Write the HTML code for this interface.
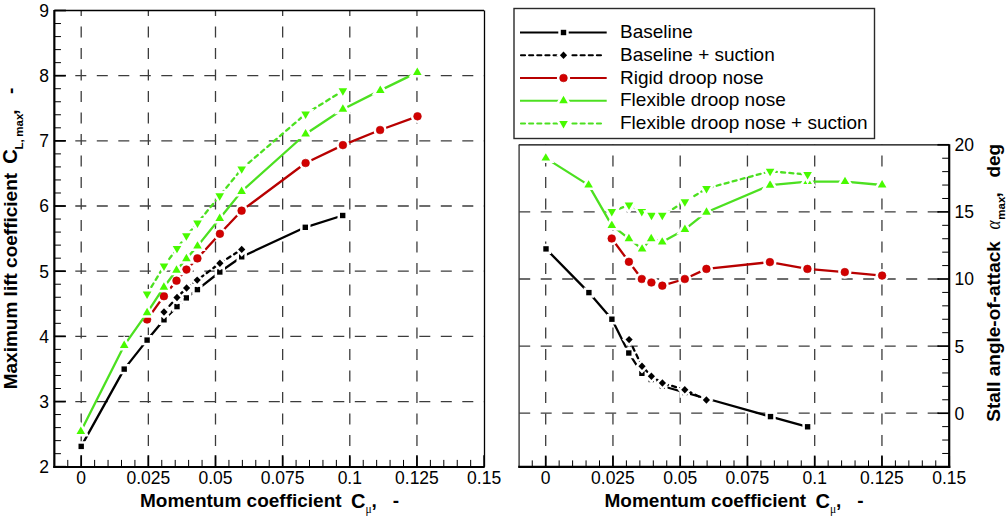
<!DOCTYPE html>
<html><head><meta charset="utf-8"><style>
html,body{margin:0;padding:0;background:#fff;}
svg{display:block;}
svg{font-family:"Liberation Sans",sans-serif;} text{fill:#000;}
</style></head><body>
<svg width="1008" height="516" viewBox="0 0 1008 516">
<rect width="1008" height="516" fill="#fff"/>
<line x1="81.2" y1="467.5" x2="81.2" y2="10.51" stroke="#3c3c3c" stroke-width="1.3" stroke-dasharray="11 10.5" stroke-dashoffset="0"/>
<line x1="148.35" y1="467.5" x2="148.35" y2="10.51" stroke="#3c3c3c" stroke-width="1.3" stroke-dasharray="11 10.5" stroke-dashoffset="0"/>
<line x1="215.5" y1="467.5" x2="215.5" y2="10.51" stroke="#3c3c3c" stroke-width="1.3" stroke-dasharray="11 10.5" stroke-dashoffset="0"/>
<line x1="282.65" y1="467.5" x2="282.65" y2="10.51" stroke="#3c3c3c" stroke-width="1.3" stroke-dasharray="11 10.5" stroke-dashoffset="0"/>
<line x1="349.8" y1="467.5" x2="349.8" y2="10.51" stroke="#3c3c3c" stroke-width="1.3" stroke-dasharray="11 10.5" stroke-dashoffset="0"/>
<line x1="416.95" y1="467.5" x2="416.95" y2="10.51" stroke="#3c3c3c" stroke-width="1.3" stroke-dasharray="11 10.5" stroke-dashoffset="0"/>
<line x1="53.8" y1="401.53" x2="484.1" y2="401.53" stroke="#3c3c3c" stroke-width="1.3" stroke-dasharray="11 10.5" stroke-dashoffset="0"/>
<line x1="53.8" y1="336.36" x2="484.1" y2="336.36" stroke="#3c3c3c" stroke-width="1.3" stroke-dasharray="11 10.5" stroke-dashoffset="0"/>
<line x1="53.8" y1="271.19" x2="484.1" y2="271.19" stroke="#3c3c3c" stroke-width="1.3" stroke-dasharray="11 10.5" stroke-dashoffset="0"/>
<line x1="53.8" y1="206.02" x2="484.1" y2="206.02" stroke="#3c3c3c" stroke-width="1.3" stroke-dasharray="11 10.5" stroke-dashoffset="0"/>
<line x1="53.8" y1="140.85" x2="484.1" y2="140.85" stroke="#3c3c3c" stroke-width="1.3" stroke-dasharray="11 10.5" stroke-dashoffset="0"/>
<line x1="53.8" y1="75.68" x2="484.1" y2="75.68" stroke="#3c3c3c" stroke-width="1.3" stroke-dasharray="11 10.5" stroke-dashoffset="0"/>
<line x1="545.7" y1="467.5" x2="545.7" y2="144.8" stroke="#3c3c3c" stroke-width="1.3" stroke-dasharray="11 10.5" stroke-dashoffset="0"/>
<line x1="612.95" y1="467.5" x2="612.95" y2="144.8" stroke="#3c3c3c" stroke-width="1.3" stroke-dasharray="11 10.5" stroke-dashoffset="0"/>
<line x1="680.2" y1="467.5" x2="680.2" y2="144.8" stroke="#3c3c3c" stroke-width="1.3" stroke-dasharray="11 10.5" stroke-dashoffset="0"/>
<line x1="747.45" y1="467.5" x2="747.45" y2="144.8" stroke="#3c3c3c" stroke-width="1.3" stroke-dasharray="11 10.5" stroke-dashoffset="0"/>
<line x1="814.7" y1="467.5" x2="814.7" y2="144.8" stroke="#3c3c3c" stroke-width="1.3" stroke-dasharray="11 10.5" stroke-dashoffset="0"/>
<line x1="881.95" y1="467.5" x2="881.95" y2="144.8" stroke="#3c3c3c" stroke-width="1.3" stroke-dasharray="11 10.5" stroke-dashoffset="0"/>
<line x1="519.2" y1="413.2" x2="949.2" y2="413.2" stroke="#3c3c3c" stroke-width="1.3" stroke-dasharray="11 10.5" stroke-dashoffset="0"/>
<line x1="519.2" y1="346.1" x2="949.2" y2="346.1" stroke="#3c3c3c" stroke-width="1.3" stroke-dasharray="11 10.5" stroke-dashoffset="0"/>
<line x1="519.2" y1="279" x2="949.2" y2="279" stroke="#3c3c3c" stroke-width="1.3" stroke-dasharray="11 10.5" stroke-dashoffset="0"/>
<line x1="519.2" y1="211.9" x2="949.2" y2="211.9" stroke="#3c3c3c" stroke-width="1.3" stroke-dasharray="11 10.5" stroke-dashoffset="0"/>
<path d="M81.2,446.4 L124.2,369.1 L147.1,340.1 L164,319.8 L177,306.6 L186.3,297.9 L197.4,289.6 L219.8,272 L241.7,256.8 L305.3,227.3 L342.7,215.5" fill="none" stroke="#000" stroke-width="2.3" stroke-linejoin="round"/>
<path d="M78.5,443.7h5.4v5.4h-5.4z" fill="#000" stroke="#fff" stroke-width="5.0" stroke-linejoin="miter" stroke-miterlimit="6" paint-order="stroke"/>
<path d="M121.5,366.4h5.4v5.4h-5.4z" fill="#000" stroke="#fff" stroke-width="5.0" stroke-linejoin="miter" stroke-miterlimit="6" paint-order="stroke"/>
<path d="M144.4,337.4h5.4v5.4h-5.4z" fill="#000" stroke="#fff" stroke-width="5.0" stroke-linejoin="miter" stroke-miterlimit="6" paint-order="stroke"/>
<path d="M161.3,317.1h5.4v5.4h-5.4z" fill="#000" stroke="#fff" stroke-width="5.0" stroke-linejoin="miter" stroke-miterlimit="6" paint-order="stroke"/>
<path d="M174.3,303.9h5.4v5.4h-5.4z" fill="#000" stroke="#fff" stroke-width="5.0" stroke-linejoin="miter" stroke-miterlimit="6" paint-order="stroke"/>
<path d="M183.6,295.2h5.4v5.4h-5.4z" fill="#000" stroke="#fff" stroke-width="5.0" stroke-linejoin="miter" stroke-miterlimit="6" paint-order="stroke"/>
<path d="M194.7,286.9h5.4v5.4h-5.4z" fill="#000" stroke="#fff" stroke-width="5.0" stroke-linejoin="miter" stroke-miterlimit="6" paint-order="stroke"/>
<path d="M217.1,269.3h5.4v5.4h-5.4z" fill="#000" stroke="#fff" stroke-width="5.0" stroke-linejoin="miter" stroke-miterlimit="6" paint-order="stroke"/>
<path d="M239,254.1h5.4v5.4h-5.4z" fill="#000" stroke="#fff" stroke-width="5.0" stroke-linejoin="miter" stroke-miterlimit="6" paint-order="stroke"/>
<path d="M302.6,224.6h5.4v5.4h-5.4z" fill="#000" stroke="#fff" stroke-width="5.0" stroke-linejoin="miter" stroke-miterlimit="6" paint-order="stroke"/>
<path d="M340,212.8h5.4v5.4h-5.4z" fill="#000" stroke="#fff" stroke-width="5.0" stroke-linejoin="miter" stroke-miterlimit="6" paint-order="stroke"/>
<path d="M164,312 L177,297.5 L186.6,288 L197.2,280.1 L219.9,263.2 L241.7,249.4" fill="none" stroke="#000" stroke-width="2.3" stroke-linejoin="round" stroke-dasharray="4 4.3" stroke-linecap="round"/>
<path d="M164,308.3L167.6,312L164,315.7L160.4,312z" fill="#000" stroke="#fff" stroke-width="5.0" stroke-linejoin="miter" stroke-miterlimit="6" paint-order="stroke"/>
<path d="M177,293.8L180.6,297.5L177,301.2L173.4,297.5z" fill="#000" stroke="#fff" stroke-width="5.0" stroke-linejoin="miter" stroke-miterlimit="6" paint-order="stroke"/>
<path d="M186.6,284.3L190.2,288L186.6,291.7L183,288z" fill="#000" stroke="#fff" stroke-width="5.0" stroke-linejoin="miter" stroke-miterlimit="6" paint-order="stroke"/>
<path d="M197.2,276.4L200.8,280.1L197.2,283.8L193.6,280.1z" fill="#000" stroke="#fff" stroke-width="5.0" stroke-linejoin="miter" stroke-miterlimit="6" paint-order="stroke"/>
<path d="M219.9,259.5L223.5,263.2L219.9,266.9L216.3,263.2z" fill="#000" stroke="#fff" stroke-width="5.0" stroke-linejoin="miter" stroke-miterlimit="6" paint-order="stroke"/>
<path d="M241.7,245.7L245.3,249.4L241.7,253.1L238.1,249.4z" fill="#000" stroke="#fff" stroke-width="5.0" stroke-linejoin="miter" stroke-miterlimit="6" paint-order="stroke"/>
<path d="M147.1,319.5 L163.9,296.2 L176.5,280.7 L186.4,269.6 L197.4,258.4 L219.9,233.8 L241.6,210.7 L305.6,163 L342.9,145.1 L380.1,130 L417.5,116.3" fill="none" stroke="#b80000" stroke-width="2.3" stroke-linejoin="round"/>
<circle cx="147.1" cy="319.5" r="4.15" fill="#fff" stroke="#fff" stroke-width="5.0"/>
<circle cx="147.1" cy="319.5" r="3.85" fill="#d20000" stroke="#bb0000" stroke-width="0.6"/>
<circle cx="163.9" cy="296.2" r="4.15" fill="#fff" stroke="#fff" stroke-width="5.0"/>
<circle cx="163.9" cy="296.2" r="3.85" fill="#d20000" stroke="#bb0000" stroke-width="0.6"/>
<circle cx="176.5" cy="280.7" r="4.15" fill="#fff" stroke="#fff" stroke-width="5.0"/>
<circle cx="176.5" cy="280.7" r="3.85" fill="#d20000" stroke="#bb0000" stroke-width="0.6"/>
<circle cx="186.4" cy="269.6" r="4.15" fill="#fff" stroke="#fff" stroke-width="5.0"/>
<circle cx="186.4" cy="269.6" r="3.85" fill="#d20000" stroke="#bb0000" stroke-width="0.6"/>
<circle cx="197.4" cy="258.4" r="4.15" fill="#fff" stroke="#fff" stroke-width="5.0"/>
<circle cx="197.4" cy="258.4" r="3.85" fill="#d20000" stroke="#bb0000" stroke-width="0.6"/>
<circle cx="219.9" cy="233.8" r="4.15" fill="#fff" stroke="#fff" stroke-width="5.0"/>
<circle cx="219.9" cy="233.8" r="3.85" fill="#d20000" stroke="#bb0000" stroke-width="0.6"/>
<circle cx="241.6" cy="210.7" r="4.15" fill="#fff" stroke="#fff" stroke-width="5.0"/>
<circle cx="241.6" cy="210.7" r="3.85" fill="#d20000" stroke="#bb0000" stroke-width="0.6"/>
<circle cx="305.6" cy="163" r="4.15" fill="#fff" stroke="#fff" stroke-width="5.0"/>
<circle cx="305.6" cy="163" r="3.85" fill="#d20000" stroke="#bb0000" stroke-width="0.6"/>
<circle cx="342.9" cy="145.1" r="4.15" fill="#fff" stroke="#fff" stroke-width="5.0"/>
<circle cx="342.9" cy="145.1" r="3.85" fill="#d20000" stroke="#bb0000" stroke-width="0.6"/>
<circle cx="380.1" cy="130" r="4.15" fill="#fff" stroke="#fff" stroke-width="5.0"/>
<circle cx="380.1" cy="130" r="3.85" fill="#d20000" stroke="#bb0000" stroke-width="0.6"/>
<circle cx="417.5" cy="116.3" r="4.15" fill="#fff" stroke="#fff" stroke-width="5.0"/>
<circle cx="417.5" cy="116.3" r="3.85" fill="#d20000" stroke="#bb0000" stroke-width="0.6"/>
<path d="M80.8,431.5 L124.2,345.4 L147.1,312.8 L163.9,287.2 L176.5,270.2 L186.4,258.7 L197.5,246.1 L219.7,218.5 L241.6,191.4 L305.6,134 L342.9,109.3 L380.3,90.4 L417.3,72.4" fill="none" stroke="#4ce020" stroke-width="2.3" stroke-linejoin="round"/>
<path d="M80.8,426.53L85.1,433.98L76.5,433.98z" fill="#48fa00" stroke="#fff" stroke-width="5.0" stroke-linejoin="miter" stroke-miterlimit="6" paint-order="stroke"/>
<path d="M124.2,340.43L128.5,347.88L119.9,347.88z" fill="#48fa00" stroke="#fff" stroke-width="5.0" stroke-linejoin="miter" stroke-miterlimit="6" paint-order="stroke"/>
<path d="M147.1,307.83L151.4,315.28L142.8,315.28z" fill="#48fa00" stroke="#fff" stroke-width="5.0" stroke-linejoin="miter" stroke-miterlimit="6" paint-order="stroke"/>
<path d="M163.9,282.23L168.2,289.68L159.6,289.68z" fill="#48fa00" stroke="#fff" stroke-width="5.0" stroke-linejoin="miter" stroke-miterlimit="6" paint-order="stroke"/>
<path d="M176.5,265.23L180.8,272.68L172.2,272.68z" fill="#48fa00" stroke="#fff" stroke-width="5.0" stroke-linejoin="miter" stroke-miterlimit="6" paint-order="stroke"/>
<path d="M186.4,253.73L190.7,261.18L182.1,261.18z" fill="#48fa00" stroke="#fff" stroke-width="5.0" stroke-linejoin="miter" stroke-miterlimit="6" paint-order="stroke"/>
<path d="M197.5,241.13L201.8,248.58L193.2,248.58z" fill="#48fa00" stroke="#fff" stroke-width="5.0" stroke-linejoin="miter" stroke-miterlimit="6" paint-order="stroke"/>
<path d="M219.7,213.53L224,220.98L215.4,220.98z" fill="#48fa00" stroke="#fff" stroke-width="5.0" stroke-linejoin="miter" stroke-miterlimit="6" paint-order="stroke"/>
<path d="M241.6,186.43L245.9,193.88L237.3,193.88z" fill="#48fa00" stroke="#fff" stroke-width="5.0" stroke-linejoin="miter" stroke-miterlimit="6" paint-order="stroke"/>
<path d="M305.6,129.03L309.9,136.48L301.3,136.48z" fill="#48fa00" stroke="#fff" stroke-width="5.0" stroke-linejoin="miter" stroke-miterlimit="6" paint-order="stroke"/>
<path d="M342.9,104.33L347.2,111.78L338.6,111.78z" fill="#48fa00" stroke="#fff" stroke-width="5.0" stroke-linejoin="miter" stroke-miterlimit="6" paint-order="stroke"/>
<path d="M380.3,85.43L384.6,92.88L376,92.88z" fill="#48fa00" stroke="#fff" stroke-width="5.0" stroke-linejoin="miter" stroke-miterlimit="6" paint-order="stroke"/>
<path d="M417.3,67.43L421.6,74.88L413,74.88z" fill="#48fa00" stroke="#fff" stroke-width="5.0" stroke-linejoin="miter" stroke-miterlimit="6" paint-order="stroke"/>
<path d="M147.1,294 L164,266.1 L177,248.4 L186.4,235.7 L197.5,223 L219.7,195.8 L241.7,168.9 L305.6,114 L342.9,90.8" fill="none" stroke="#4ce020" stroke-width="2.3" stroke-linejoin="round" stroke-dasharray="4 4.3" stroke-linecap="round"/>
<path d="M147.1,298.97L151.4,291.52L142.8,291.52z" fill="#48fa00" stroke="#fff" stroke-width="5.0" stroke-linejoin="miter" stroke-miterlimit="6" paint-order="stroke"/>
<path d="M164,271.07L168.3,263.62L159.7,263.62z" fill="#48fa00" stroke="#fff" stroke-width="5.0" stroke-linejoin="miter" stroke-miterlimit="6" paint-order="stroke"/>
<path d="M177,253.37L181.3,245.92L172.7,245.92z" fill="#48fa00" stroke="#fff" stroke-width="5.0" stroke-linejoin="miter" stroke-miterlimit="6" paint-order="stroke"/>
<path d="M186.4,240.67L190.7,233.22L182.1,233.22z" fill="#48fa00" stroke="#fff" stroke-width="5.0" stroke-linejoin="miter" stroke-miterlimit="6" paint-order="stroke"/>
<path d="M197.5,227.97L201.8,220.52L193.2,220.52z" fill="#48fa00" stroke="#fff" stroke-width="5.0" stroke-linejoin="miter" stroke-miterlimit="6" paint-order="stroke"/>
<path d="M219.7,200.77L224,193.32L215.4,193.32z" fill="#48fa00" stroke="#fff" stroke-width="5.0" stroke-linejoin="miter" stroke-miterlimit="6" paint-order="stroke"/>
<path d="M241.7,173.87L246,166.42L237.4,166.42z" fill="#48fa00" stroke="#fff" stroke-width="5.0" stroke-linejoin="miter" stroke-miterlimit="6" paint-order="stroke"/>
<path d="M305.6,118.97L309.9,111.52L301.3,111.52z" fill="#48fa00" stroke="#fff" stroke-width="5.0" stroke-linejoin="miter" stroke-miterlimit="6" paint-order="stroke"/>
<path d="M342.9,95.77L347.2,88.32L338.6,88.32z" fill="#48fa00" stroke="#fff" stroke-width="5.0" stroke-linejoin="miter" stroke-miterlimit="6" paint-order="stroke"/>
<path d="M546,248.9 L588.9,292.6 L611.9,319.2 L628.8,353 L641.9,373.3 L651.2,379.5 L662.3,386 L684.8,392.5 L706.4,398.5 L770.5,416.6 L807.6,426.8" fill="none" stroke="#000" stroke-width="2.3" stroke-linejoin="round"/>
<path d="M543.3,246.2h5.4v5.4h-5.4z" fill="#000" stroke="#fff" stroke-width="5.0" stroke-linejoin="miter" stroke-miterlimit="6" paint-order="stroke"/>
<path d="M586.2,289.9h5.4v5.4h-5.4z" fill="#000" stroke="#fff" stroke-width="5.0" stroke-linejoin="miter" stroke-miterlimit="6" paint-order="stroke"/>
<path d="M609.2,316.5h5.4v5.4h-5.4z" fill="#000" stroke="#fff" stroke-width="5.0" stroke-linejoin="miter" stroke-miterlimit="6" paint-order="stroke"/>
<path d="M626.1,350.3h5.4v5.4h-5.4z" fill="#000" stroke="#fff" stroke-width="5.0" stroke-linejoin="miter" stroke-miterlimit="6" paint-order="stroke"/>
<path d="M639.2,370.6h5.4v5.4h-5.4z" fill="#000" stroke="#fff" stroke-width="5.0" stroke-linejoin="miter" stroke-miterlimit="6" paint-order="stroke"/>
<path d="M648.5,376.8h5.4v5.4h-5.4z" fill="#000" stroke="#fff" stroke-width="5.0" stroke-linejoin="miter" stroke-miterlimit="6" paint-order="stroke"/>
<path d="M659.6,383.3h5.4v5.4h-5.4z" fill="#000" stroke="#fff" stroke-width="5.0" stroke-linejoin="miter" stroke-miterlimit="6" paint-order="stroke"/>
<path d="M682.1,389.8h5.4v5.4h-5.4z" fill="#000" stroke="#fff" stroke-width="5.0" stroke-linejoin="miter" stroke-miterlimit="6" paint-order="stroke"/>
<path d="M703.7,395.8h5.4v5.4h-5.4z" fill="#000" stroke="#fff" stroke-width="5.0" stroke-linejoin="miter" stroke-miterlimit="6" paint-order="stroke"/>
<path d="M767.8,413.9h5.4v5.4h-5.4z" fill="#000" stroke="#fff" stroke-width="5.0" stroke-linejoin="miter" stroke-miterlimit="6" paint-order="stroke"/>
<path d="M804.9,424.1h5.4v5.4h-5.4z" fill="#000" stroke="#fff" stroke-width="5.0" stroke-linejoin="miter" stroke-miterlimit="6" paint-order="stroke"/>
<path d="M629.1,339.6 L642,366.2 L651.4,376.3 L662.4,383 L684.8,389.7 L706.4,400" fill="none" stroke="#000" stroke-width="2.3" stroke-linejoin="round" stroke-dasharray="4 4.3" stroke-linecap="round"/>
<path d="M629.1,335.9L632.7,339.6L629.1,343.3L625.5,339.6z" fill="#000" stroke="#fff" stroke-width="5.0" stroke-linejoin="miter" stroke-miterlimit="6" paint-order="stroke"/>
<path d="M642,362.5L645.6,366.2L642,369.9L638.4,366.2z" fill="#000" stroke="#fff" stroke-width="5.0" stroke-linejoin="miter" stroke-miterlimit="6" paint-order="stroke"/>
<path d="M651.4,372.6L655,376.3L651.4,380L647.8,376.3z" fill="#000" stroke="#fff" stroke-width="5.0" stroke-linejoin="miter" stroke-miterlimit="6" paint-order="stroke"/>
<path d="M662.4,379.3L666,383L662.4,386.7L658.8,383z" fill="#000" stroke="#fff" stroke-width="5.0" stroke-linejoin="miter" stroke-miterlimit="6" paint-order="stroke"/>
<path d="M684.8,386L688.4,389.7L684.8,393.4L681.2,389.7z" fill="#000" stroke="#fff" stroke-width="5.0" stroke-linejoin="miter" stroke-miterlimit="6" paint-order="stroke"/>
<path d="M706.4,396.3L710,400L706.4,403.7L702.8,400z" fill="#000" stroke="#fff" stroke-width="5.0" stroke-linejoin="miter" stroke-miterlimit="6" paint-order="stroke"/>
<path d="M611.7,238.5 L628.9,261.8 L641.8,279 L651.4,282.5 L662.3,285.7 L684.8,279 L706.4,268.9 L769.9,262.1 L807.4,268.9 L844.8,272.1 L882.1,275.6" fill="none" stroke="#b80000" stroke-width="2.3" stroke-linejoin="round"/>
<circle cx="611.7" cy="238.5" r="4.15" fill="#fff" stroke="#fff" stroke-width="5.0"/>
<circle cx="611.7" cy="238.5" r="3.85" fill="#d20000" stroke="#bb0000" stroke-width="0.6"/>
<circle cx="628.9" cy="261.8" r="4.15" fill="#fff" stroke="#fff" stroke-width="5.0"/>
<circle cx="628.9" cy="261.8" r="3.85" fill="#d20000" stroke="#bb0000" stroke-width="0.6"/>
<circle cx="641.8" cy="279" r="4.15" fill="#fff" stroke="#fff" stroke-width="5.0"/>
<circle cx="641.8" cy="279" r="3.85" fill="#d20000" stroke="#bb0000" stroke-width="0.6"/>
<circle cx="651.4" cy="282.5" r="4.15" fill="#fff" stroke="#fff" stroke-width="5.0"/>
<circle cx="651.4" cy="282.5" r="3.85" fill="#d20000" stroke="#bb0000" stroke-width="0.6"/>
<circle cx="662.3" cy="285.7" r="4.15" fill="#fff" stroke="#fff" stroke-width="5.0"/>
<circle cx="662.3" cy="285.7" r="3.85" fill="#d20000" stroke="#bb0000" stroke-width="0.6"/>
<circle cx="684.8" cy="279" r="4.15" fill="#fff" stroke="#fff" stroke-width="5.0"/>
<circle cx="684.8" cy="279" r="3.85" fill="#d20000" stroke="#bb0000" stroke-width="0.6"/>
<circle cx="706.4" cy="268.9" r="4.15" fill="#fff" stroke="#fff" stroke-width="5.0"/>
<circle cx="706.4" cy="268.9" r="3.85" fill="#d20000" stroke="#bb0000" stroke-width="0.6"/>
<circle cx="769.9" cy="262.1" r="4.15" fill="#fff" stroke="#fff" stroke-width="5.0"/>
<circle cx="769.9" cy="262.1" r="3.85" fill="#d20000" stroke="#bb0000" stroke-width="0.6"/>
<circle cx="807.4" cy="268.9" r="4.15" fill="#fff" stroke="#fff" stroke-width="5.0"/>
<circle cx="807.4" cy="268.9" r="3.85" fill="#d20000" stroke="#bb0000" stroke-width="0.6"/>
<circle cx="844.8" cy="272.1" r="4.15" fill="#fff" stroke="#fff" stroke-width="5.0"/>
<circle cx="844.8" cy="272.1" r="3.85" fill="#d20000" stroke="#bb0000" stroke-width="0.6"/>
<circle cx="882.1" cy="275.6" r="4.15" fill="#fff" stroke="#fff" stroke-width="5.0"/>
<circle cx="882.1" cy="275.6" r="3.85" fill="#d20000" stroke="#bb0000" stroke-width="0.6"/>
<path d="M545.8,158.1 L588.6,185.1 L611.8,225.4 L628.9,238.7 L642.1,249.1 L651.2,238.7 L662.2,242.1 L684.9,229.4 L706.5,212.2 L770.1,185.2 L807.6,181.6 L845,181.6 L882.1,185" fill="none" stroke="#4ce020" stroke-width="2.3" stroke-linejoin="round"/>
<path d="M545.8,153.13L550.1,160.58L541.5,160.58z" fill="#48fa00" stroke="#fff" stroke-width="5.0" stroke-linejoin="miter" stroke-miterlimit="6" paint-order="stroke"/>
<path d="M588.6,180.13L592.9,187.58L584.3,187.58z" fill="#48fa00" stroke="#fff" stroke-width="5.0" stroke-linejoin="miter" stroke-miterlimit="6" paint-order="stroke"/>
<path d="M611.8,220.43L616.1,227.88L607.5,227.88z" fill="#48fa00" stroke="#fff" stroke-width="5.0" stroke-linejoin="miter" stroke-miterlimit="6" paint-order="stroke"/>
<path d="M628.9,233.73L633.2,241.18L624.6,241.18z" fill="#48fa00" stroke="#fff" stroke-width="5.0" stroke-linejoin="miter" stroke-miterlimit="6" paint-order="stroke"/>
<path d="M642.1,244.13L646.4,251.58L637.8,251.58z" fill="#48fa00" stroke="#fff" stroke-width="5.0" stroke-linejoin="miter" stroke-miterlimit="6" paint-order="stroke"/>
<path d="M651.2,233.73L655.5,241.18L646.9,241.18z" fill="#48fa00" stroke="#fff" stroke-width="5.0" stroke-linejoin="miter" stroke-miterlimit="6" paint-order="stroke"/>
<path d="M662.2,237.13L666.5,244.58L657.9,244.58z" fill="#48fa00" stroke="#fff" stroke-width="5.0" stroke-linejoin="miter" stroke-miterlimit="6" paint-order="stroke"/>
<path d="M684.9,224.43L689.2,231.88L680.6,231.88z" fill="#48fa00" stroke="#fff" stroke-width="5.0" stroke-linejoin="miter" stroke-miterlimit="6" paint-order="stroke"/>
<path d="M706.5,207.23L710.8,214.68L702.2,214.68z" fill="#48fa00" stroke="#fff" stroke-width="5.0" stroke-linejoin="miter" stroke-miterlimit="6" paint-order="stroke"/>
<path d="M770.1,180.23L774.4,187.68L765.8,187.68z" fill="#48fa00" stroke="#fff" stroke-width="5.0" stroke-linejoin="miter" stroke-miterlimit="6" paint-order="stroke"/>
<path d="M807.6,176.63L811.9,184.08L803.3,184.08z" fill="#48fa00" stroke="#fff" stroke-width="5.0" stroke-linejoin="miter" stroke-miterlimit="6" paint-order="stroke"/>
<path d="M845,176.63L849.3,184.08L840.7,184.08z" fill="#48fa00" stroke="#fff" stroke-width="5.0" stroke-linejoin="miter" stroke-miterlimit="6" paint-order="stroke"/>
<path d="M882.1,180.03L886.4,187.48L877.8,187.48z" fill="#48fa00" stroke="#fff" stroke-width="5.0" stroke-linejoin="miter" stroke-miterlimit="6" paint-order="stroke"/>
<path d="M611.8,211.6 L629,205 L641.8,211.6 L651.5,215.2 L662.3,215.3 L684.9,201.7 L706.5,188.5 L770.1,171.3 L807.6,174.5" fill="none" stroke="#4ce020" stroke-width="2.3" stroke-linejoin="round" stroke-dasharray="4 4.3" stroke-linecap="round"/>
<path d="M611.8,216.57L616.1,209.12L607.5,209.12z" fill="#48fa00" stroke="#fff" stroke-width="5.0" stroke-linejoin="miter" stroke-miterlimit="6" paint-order="stroke"/>
<path d="M629,209.97L633.3,202.52L624.7,202.52z" fill="#48fa00" stroke="#fff" stroke-width="5.0" stroke-linejoin="miter" stroke-miterlimit="6" paint-order="stroke"/>
<path d="M641.8,216.57L646.1,209.12L637.5,209.12z" fill="#48fa00" stroke="#fff" stroke-width="5.0" stroke-linejoin="miter" stroke-miterlimit="6" paint-order="stroke"/>
<path d="M651.5,220.17L655.8,212.72L647.2,212.72z" fill="#48fa00" stroke="#fff" stroke-width="5.0" stroke-linejoin="miter" stroke-miterlimit="6" paint-order="stroke"/>
<path d="M662.3,220.27L666.6,212.82L658,212.82z" fill="#48fa00" stroke="#fff" stroke-width="5.0" stroke-linejoin="miter" stroke-miterlimit="6" paint-order="stroke"/>
<path d="M684.9,206.67L689.2,199.22L680.6,199.22z" fill="#48fa00" stroke="#fff" stroke-width="5.0" stroke-linejoin="miter" stroke-miterlimit="6" paint-order="stroke"/>
<path d="M706.5,193.47L710.8,186.02L702.2,186.02z" fill="#48fa00" stroke="#fff" stroke-width="5.0" stroke-linejoin="miter" stroke-miterlimit="6" paint-order="stroke"/>
<path d="M770.1,176.27L774.4,168.82L765.8,168.82z" fill="#48fa00" stroke="#fff" stroke-width="5.0" stroke-linejoin="miter" stroke-miterlimit="6" paint-order="stroke"/>
<path d="M807.6,179.47L811.9,172.02L803.3,172.02z" fill="#48fa00" stroke="#fff" stroke-width="5.0" stroke-linejoin="miter" stroke-miterlimit="6" paint-order="stroke"/>
<line x1="54.34" y1="10.51" x2="484.1" y2="10.51" stroke="#000" stroke-width="1.3"/>
<line x1="484.5" y1="10.51" x2="484.5" y2="466.7" stroke="#000" stroke-width="1.3"/>
<line x1="54.34" y1="466.7" x2="65.94" y2="466.7" stroke="#000" stroke-width="1.7"/>
<line x1="54.34" y1="453.67" x2="60.94" y2="453.67" stroke="#000" stroke-width="1.0"/>
<line x1="54.34" y1="440.63" x2="60.94" y2="440.63" stroke="#000" stroke-width="1.0"/>
<line x1="54.34" y1="427.6" x2="60.94" y2="427.6" stroke="#000" stroke-width="1.0"/>
<line x1="54.34" y1="414.56" x2="60.94" y2="414.56" stroke="#000" stroke-width="1.0"/>
<line x1="54.34" y1="401.53" x2="65.94" y2="401.53" stroke="#000" stroke-width="1.7"/>
<line x1="54.34" y1="388.5" x2="60.94" y2="388.5" stroke="#000" stroke-width="1.0"/>
<line x1="54.34" y1="375.46" x2="60.94" y2="375.46" stroke="#000" stroke-width="1.0"/>
<line x1="54.34" y1="362.43" x2="60.94" y2="362.43" stroke="#000" stroke-width="1.0"/>
<line x1="54.34" y1="349.39" x2="60.94" y2="349.39" stroke="#000" stroke-width="1.0"/>
<line x1="54.34" y1="336.36" x2="65.94" y2="336.36" stroke="#000" stroke-width="1.7"/>
<line x1="54.34" y1="323.33" x2="60.94" y2="323.33" stroke="#000" stroke-width="1.0"/>
<line x1="54.34" y1="310.29" x2="60.94" y2="310.29" stroke="#000" stroke-width="1.0"/>
<line x1="54.34" y1="297.26" x2="60.94" y2="297.26" stroke="#000" stroke-width="1.0"/>
<line x1="54.34" y1="284.22" x2="60.94" y2="284.22" stroke="#000" stroke-width="1.0"/>
<line x1="54.34" y1="271.19" x2="65.94" y2="271.19" stroke="#000" stroke-width="1.7"/>
<line x1="54.34" y1="258.16" x2="60.94" y2="258.16" stroke="#000" stroke-width="1.0"/>
<line x1="54.34" y1="245.12" x2="60.94" y2="245.12" stroke="#000" stroke-width="1.0"/>
<line x1="54.34" y1="232.09" x2="60.94" y2="232.09" stroke="#000" stroke-width="1.0"/>
<line x1="54.34" y1="219.05" x2="60.94" y2="219.05" stroke="#000" stroke-width="1.0"/>
<line x1="54.34" y1="206.02" x2="65.94" y2="206.02" stroke="#000" stroke-width="1.7"/>
<line x1="54.34" y1="192.99" x2="60.94" y2="192.99" stroke="#000" stroke-width="1.0"/>
<line x1="54.34" y1="179.95" x2="60.94" y2="179.95" stroke="#000" stroke-width="1.0"/>
<line x1="54.34" y1="166.92" x2="60.94" y2="166.92" stroke="#000" stroke-width="1.0"/>
<line x1="54.34" y1="153.88" x2="60.94" y2="153.88" stroke="#000" stroke-width="1.0"/>
<line x1="54.34" y1="140.85" x2="65.94" y2="140.85" stroke="#000" stroke-width="1.7"/>
<line x1="54.34" y1="127.82" x2="60.94" y2="127.82" stroke="#000" stroke-width="1.0"/>
<line x1="54.34" y1="114.78" x2="60.94" y2="114.78" stroke="#000" stroke-width="1.0"/>
<line x1="54.34" y1="101.75" x2="60.94" y2="101.75" stroke="#000" stroke-width="1.0"/>
<line x1="54.34" y1="88.71" x2="60.94" y2="88.71" stroke="#000" stroke-width="1.0"/>
<line x1="54.34" y1="75.68" x2="65.94" y2="75.68" stroke="#000" stroke-width="1.7"/>
<line x1="54.34" y1="62.65" x2="60.94" y2="62.65" stroke="#000" stroke-width="1.0"/>
<line x1="54.34" y1="49.61" x2="60.94" y2="49.61" stroke="#000" stroke-width="1.0"/>
<line x1="54.34" y1="36.58" x2="60.94" y2="36.58" stroke="#000" stroke-width="1.0"/>
<line x1="54.34" y1="23.54" x2="60.94" y2="23.54" stroke="#000" stroke-width="1.0"/>
<line x1="54.34" y1="10.51" x2="65.94" y2="10.51" stroke="#000" stroke-width="1.7"/>
<line x1="54.34" y1="466.7" x2="54.34" y2="459.9" stroke="#000" stroke-width="1.0"/>
<line x1="67.77" y1="466.7" x2="67.77" y2="459.9" stroke="#000" stroke-width="1.0"/>
<line x1="81.2" y1="466.7" x2="81.2" y2="455.2" stroke="#000" stroke-width="1.7"/>
<line x1="94.63" y1="466.7" x2="94.63" y2="459.9" stroke="#000" stroke-width="1.0"/>
<line x1="108.06" y1="466.7" x2="108.06" y2="459.9" stroke="#000" stroke-width="1.0"/>
<line x1="121.49" y1="466.7" x2="121.49" y2="459.9" stroke="#000" stroke-width="1.0"/>
<line x1="134.92" y1="466.7" x2="134.92" y2="459.9" stroke="#000" stroke-width="1.0"/>
<line x1="148.35" y1="466.7" x2="148.35" y2="455.2" stroke="#000" stroke-width="1.7"/>
<line x1="161.78" y1="466.7" x2="161.78" y2="459.9" stroke="#000" stroke-width="1.0"/>
<line x1="175.21" y1="466.7" x2="175.21" y2="459.9" stroke="#000" stroke-width="1.0"/>
<line x1="188.64" y1="466.7" x2="188.64" y2="459.9" stroke="#000" stroke-width="1.0"/>
<line x1="202.07" y1="466.7" x2="202.07" y2="459.9" stroke="#000" stroke-width="1.0"/>
<line x1="215.5" y1="466.7" x2="215.5" y2="455.2" stroke="#000" stroke-width="1.7"/>
<line x1="228.93" y1="466.7" x2="228.93" y2="459.9" stroke="#000" stroke-width="1.0"/>
<line x1="242.36" y1="466.7" x2="242.36" y2="459.9" stroke="#000" stroke-width="1.0"/>
<line x1="255.79" y1="466.7" x2="255.79" y2="459.9" stroke="#000" stroke-width="1.0"/>
<line x1="269.22" y1="466.7" x2="269.22" y2="459.9" stroke="#000" stroke-width="1.0"/>
<line x1="282.65" y1="466.7" x2="282.65" y2="455.2" stroke="#000" stroke-width="1.7"/>
<line x1="296.08" y1="466.7" x2="296.08" y2="459.9" stroke="#000" stroke-width="1.0"/>
<line x1="309.51" y1="466.7" x2="309.51" y2="459.9" stroke="#000" stroke-width="1.0"/>
<line x1="322.94" y1="466.7" x2="322.94" y2="459.9" stroke="#000" stroke-width="1.0"/>
<line x1="336.37" y1="466.7" x2="336.37" y2="459.9" stroke="#000" stroke-width="1.0"/>
<line x1="349.8" y1="466.7" x2="349.8" y2="455.2" stroke="#000" stroke-width="1.7"/>
<line x1="363.23" y1="466.7" x2="363.23" y2="459.9" stroke="#000" stroke-width="1.0"/>
<line x1="376.66" y1="466.7" x2="376.66" y2="459.9" stroke="#000" stroke-width="1.0"/>
<line x1="390.09" y1="466.7" x2="390.09" y2="459.9" stroke="#000" stroke-width="1.0"/>
<line x1="403.52" y1="466.7" x2="403.52" y2="459.9" stroke="#000" stroke-width="1.0"/>
<line x1="416.95" y1="466.7" x2="416.95" y2="455.2" stroke="#000" stroke-width="1.7"/>
<line x1="430.38" y1="466.7" x2="430.38" y2="459.9" stroke="#000" stroke-width="1.0"/>
<line x1="443.81" y1="466.7" x2="443.81" y2="459.9" stroke="#000" stroke-width="1.0"/>
<line x1="457.24" y1="466.7" x2="457.24" y2="459.9" stroke="#000" stroke-width="1.0"/>
<line x1="470.67" y1="466.7" x2="470.67" y2="459.9" stroke="#000" stroke-width="1.0"/>
<line x1="484.1" y1="466.7" x2="484.1" y2="455.2" stroke="#000" stroke-width="1.7"/>
<line x1="54.34" y1="10.01" x2="54.34" y2="467.8" stroke="#000" stroke-width="2.2"/>
<line x1="53.24" y1="467" x2="484.7" y2="467" stroke="#000" stroke-width="2.2"/>
<line x1="518.8" y1="144.8" x2="949.2" y2="144.8" stroke="#000" stroke-width="1.3"/>
<line x1="519.1" y1="144.8" x2="519.1" y2="466.88" stroke="#3c3c3c" stroke-width="1.4"/>
<line x1="949.2" y1="453.46" x2="942.2" y2="453.46" stroke="#000" stroke-width="1.0"/>
<line x1="949.2" y1="440.04" x2="942.2" y2="440.04" stroke="#000" stroke-width="1.0"/>
<line x1="949.2" y1="426.62" x2="942.2" y2="426.62" stroke="#000" stroke-width="1.0"/>
<line x1="949.2" y1="413.2" x2="937.4" y2="413.2" stroke="#000" stroke-width="1.7"/>
<line x1="949.2" y1="399.78" x2="942.2" y2="399.78" stroke="#000" stroke-width="1.0"/>
<line x1="949.2" y1="386.36" x2="942.2" y2="386.36" stroke="#000" stroke-width="1.0"/>
<line x1="949.2" y1="372.94" x2="942.2" y2="372.94" stroke="#000" stroke-width="1.0"/>
<line x1="949.2" y1="359.52" x2="942.2" y2="359.52" stroke="#000" stroke-width="1.0"/>
<line x1="949.2" y1="346.1" x2="937.4" y2="346.1" stroke="#000" stroke-width="1.7"/>
<line x1="949.2" y1="332.68" x2="942.2" y2="332.68" stroke="#000" stroke-width="1.0"/>
<line x1="949.2" y1="319.26" x2="942.2" y2="319.26" stroke="#000" stroke-width="1.0"/>
<line x1="949.2" y1="305.84" x2="942.2" y2="305.84" stroke="#000" stroke-width="1.0"/>
<line x1="949.2" y1="292.42" x2="942.2" y2="292.42" stroke="#000" stroke-width="1.0"/>
<line x1="949.2" y1="279" x2="937.4" y2="279" stroke="#000" stroke-width="1.7"/>
<line x1="949.2" y1="265.58" x2="942.2" y2="265.58" stroke="#000" stroke-width="1.0"/>
<line x1="949.2" y1="252.16" x2="942.2" y2="252.16" stroke="#000" stroke-width="1.0"/>
<line x1="949.2" y1="238.74" x2="942.2" y2="238.74" stroke="#000" stroke-width="1.0"/>
<line x1="949.2" y1="225.32" x2="942.2" y2="225.32" stroke="#000" stroke-width="1.0"/>
<line x1="949.2" y1="211.9" x2="937.4" y2="211.9" stroke="#000" stroke-width="1.7"/>
<line x1="949.2" y1="198.48" x2="942.2" y2="198.48" stroke="#000" stroke-width="1.0"/>
<line x1="949.2" y1="185.06" x2="942.2" y2="185.06" stroke="#000" stroke-width="1.0"/>
<line x1="949.2" y1="171.64" x2="942.2" y2="171.64" stroke="#000" stroke-width="1.0"/>
<line x1="949.2" y1="158.22" x2="942.2" y2="158.22" stroke="#000" stroke-width="1.0"/>
<line x1="949.2" y1="144.8" x2="937.4" y2="144.8" stroke="#000" stroke-width="1.7"/>
<line x1="532.25" y1="466.88" x2="532.25" y2="460.38" stroke="#000" stroke-width="1.0"/>
<line x1="545.7" y1="466.88" x2="545.7" y2="455.58" stroke="#000" stroke-width="1.7"/>
<line x1="559.15" y1="466.88" x2="559.15" y2="460.38" stroke="#000" stroke-width="1.0"/>
<line x1="572.6" y1="466.88" x2="572.6" y2="460.38" stroke="#000" stroke-width="1.0"/>
<line x1="586.05" y1="466.88" x2="586.05" y2="460.38" stroke="#000" stroke-width="1.0"/>
<line x1="599.5" y1="466.88" x2="599.5" y2="460.38" stroke="#000" stroke-width="1.0"/>
<line x1="612.95" y1="466.88" x2="612.95" y2="455.58" stroke="#000" stroke-width="1.7"/>
<line x1="626.4" y1="466.88" x2="626.4" y2="460.38" stroke="#000" stroke-width="1.0"/>
<line x1="639.85" y1="466.88" x2="639.85" y2="460.38" stroke="#000" stroke-width="1.0"/>
<line x1="653.3" y1="466.88" x2="653.3" y2="460.38" stroke="#000" stroke-width="1.0"/>
<line x1="666.75" y1="466.88" x2="666.75" y2="460.38" stroke="#000" stroke-width="1.0"/>
<line x1="680.2" y1="466.88" x2="680.2" y2="455.58" stroke="#000" stroke-width="1.7"/>
<line x1="693.65" y1="466.88" x2="693.65" y2="460.38" stroke="#000" stroke-width="1.0"/>
<line x1="707.1" y1="466.88" x2="707.1" y2="460.38" stroke="#000" stroke-width="1.0"/>
<line x1="720.55" y1="466.88" x2="720.55" y2="460.38" stroke="#000" stroke-width="1.0"/>
<line x1="734" y1="466.88" x2="734" y2="460.38" stroke="#000" stroke-width="1.0"/>
<line x1="747.45" y1="466.88" x2="747.45" y2="455.58" stroke="#000" stroke-width="1.7"/>
<line x1="760.9" y1="466.88" x2="760.9" y2="460.38" stroke="#000" stroke-width="1.0"/>
<line x1="774.35" y1="466.88" x2="774.35" y2="460.38" stroke="#000" stroke-width="1.0"/>
<line x1="787.8" y1="466.88" x2="787.8" y2="460.38" stroke="#000" stroke-width="1.0"/>
<line x1="801.25" y1="466.88" x2="801.25" y2="460.38" stroke="#000" stroke-width="1.0"/>
<line x1="814.7" y1="466.88" x2="814.7" y2="455.58" stroke="#000" stroke-width="1.7"/>
<line x1="828.15" y1="466.88" x2="828.15" y2="460.38" stroke="#000" stroke-width="1.0"/>
<line x1="841.6" y1="466.88" x2="841.6" y2="460.38" stroke="#000" stroke-width="1.0"/>
<line x1="855.05" y1="466.88" x2="855.05" y2="460.38" stroke="#000" stroke-width="1.0"/>
<line x1="868.5" y1="466.88" x2="868.5" y2="460.38" stroke="#000" stroke-width="1.0"/>
<line x1="881.95" y1="466.88" x2="881.95" y2="455.58" stroke="#000" stroke-width="1.7"/>
<line x1="895.4" y1="466.88" x2="895.4" y2="460.38" stroke="#000" stroke-width="1.0"/>
<line x1="908.85" y1="466.88" x2="908.85" y2="460.38" stroke="#000" stroke-width="1.0"/>
<line x1="922.3" y1="466.88" x2="922.3" y2="460.38" stroke="#000" stroke-width="1.0"/>
<line x1="935.75" y1="466.88" x2="935.75" y2="460.38" stroke="#000" stroke-width="1.0"/>
<line x1="949.2" y1="466.88" x2="949.2" y2="455.58" stroke="#000" stroke-width="1.7"/>
<line x1="949.2" y1="144.2" x2="949.2" y2="467.98" stroke="#000" stroke-width="2.2"/>
<line x1="518.2" y1="466.88" x2="950.3" y2="466.88" stroke="#000" stroke-width="2.2"/>
<text x="49.1" y="473.1" font-size="17.5" text-anchor="end" font-weight="normal" >2</text>
<text x="49.1" y="407.93" font-size="17.5" text-anchor="end" font-weight="normal" >3</text>
<text x="49.1" y="342.76" font-size="17.5" text-anchor="end" font-weight="normal" >4</text>
<text x="49.1" y="277.59" font-size="17.5" text-anchor="end" font-weight="normal" >5</text>
<text x="49.1" y="212.42" font-size="17.5" text-anchor="end" font-weight="normal" >6</text>
<text x="49.1" y="147.25" font-size="17.5" text-anchor="end" font-weight="normal" >7</text>
<text x="49.1" y="82.08" font-size="17.5" text-anchor="end" font-weight="normal" >8</text>
<text x="49.1" y="16.91" font-size="17.5" text-anchor="end" font-weight="normal" >9</text>
<text x="81.2" y="484.4" font-size="17.5" text-anchor="middle" font-weight="normal" >0</text>
<text x="545.7" y="484.4" font-size="17.5" text-anchor="middle" font-weight="normal" >0</text>
<text x="148.35" y="484.4" font-size="17.5" text-anchor="middle" font-weight="normal" >0.025</text>
<text x="612.95" y="484.4" font-size="17.5" text-anchor="middle" font-weight="normal" >0.025</text>
<text x="215.5" y="484.4" font-size="17.5" text-anchor="middle" font-weight="normal" >0.05</text>
<text x="680.2" y="484.4" font-size="17.5" text-anchor="middle" font-weight="normal" >0.05</text>
<text x="282.65" y="484.4" font-size="17.5" text-anchor="middle" font-weight="normal" >0.075</text>
<text x="747.45" y="484.4" font-size="17.5" text-anchor="middle" font-weight="normal" >0.075</text>
<text x="349.8" y="484.4" font-size="17.5" text-anchor="middle" font-weight="normal" >0.1</text>
<text x="814.7" y="484.4" font-size="17.5" text-anchor="middle" font-weight="normal" >0.1</text>
<text x="416.95" y="484.4" font-size="17.5" text-anchor="middle" font-weight="normal" >0.125</text>
<text x="881.95" y="484.4" font-size="17.5" text-anchor="middle" font-weight="normal" >0.125</text>
<text x="484.1" y="484.4" font-size="17.5" text-anchor="middle" font-weight="normal" >0.15</text>
<text x="949.2" y="484.4" font-size="17.5" text-anchor="middle" font-weight="normal" >0.15</text>
<text x="954.5" y="419.6" font-size="17.5" text-anchor="start" font-weight="normal" >0</text>
<text x="954.5" y="352.5" font-size="17.5" text-anchor="start" font-weight="normal" >5</text>
<text x="954.5" y="285.4" font-size="17.5" text-anchor="start" font-weight="normal" >10</text>
<text x="954.5" y="218.3" font-size="17.5" text-anchor="start" font-weight="normal" >15</text>
<text x="954.5" y="151.2" font-size="17.5" text-anchor="start" font-weight="normal" >20</text>
<text x="140" y="507.2" font-size="19" text-anchor="start" font-weight="bold" >Momentum coefficient</text>
<text x="351" y="507.5" font-size="20" text-anchor="start" font-weight="bold" >C</text>
<text x="365.4" y="512.7" font-size="11.5" font-family="Liberation Serif, serif">&#956;</text>
<text x="371.6" y="507.4" font-size="19" text-anchor="start" font-weight="bold" >,</text>
<text x="392.7" y="507.2" font-size="19" text-anchor="start" font-weight="bold" >-</text>
<text x="604.5" y="507.2" font-size="19" text-anchor="start" font-weight="bold" >Momentum coefficient</text>
<text x="815.5" y="507.5" font-size="20" text-anchor="start" font-weight="bold" >C</text>
<text x="829.9" y="512.7" font-size="11.5" font-family="Liberation Serif, serif">&#956;</text>
<text x="836.1" y="507.4" font-size="19" text-anchor="start" font-weight="bold" >,</text>
<text x="857.2" y="507.2" font-size="19" text-anchor="start" font-weight="bold" >-</text>
<g transform="translate(16.9,389.3) rotate(-90)">
<text x="0" y="0" font-size="19" text-anchor="start" font-weight="bold" >Maximum lift coefficient</text>
<text x="225.6" y="0.2" font-size="20" text-anchor="start" font-weight="bold" >C</text>
<text x="239.9" y="5.6" font-size="11.5" text-anchor="start" font-weight="bold" >L,</text>
<text x="252.6" y="5.6" font-size="11.5" text-anchor="start" font-weight="bold" >max</text>
<text x="274.6" y="0" font-size="19" text-anchor="start" font-weight="bold" >,</text>
<text x="295.2" y="0" font-size="19" text-anchor="start" font-weight="bold" >-</text>
</g>
<g transform="translate(1000.3,421.7) rotate(-90)">
<text x="0" y="0" font-size="19" text-anchor="start" font-weight="bold" >Stall angle-of-attack</text>
<text transform="translate(192.2,0) scale(0.86,1.05)" x="0" y="0" font-size="20" font-style="italic" font-family="Liberation Serif, serif">&#945;</text>
<text x="202" y="4.8" font-size="11.5" text-anchor="start" font-weight="bold" >max</text>
<text x="224.2" y="0" font-size="19" text-anchor="start" font-weight="bold" >,</text>
<text x="244.1" y="0" font-size="19" text-anchor="start" font-weight="bold" >deg</text>
</g>
<rect x="514" y="8.5" width="360.5" height="130" fill="#fff" stroke="#2a2a2a" stroke-width="1.4"/>
<line x1="520" y1="32.5" x2="606.7" y2="32.5" stroke="#000" stroke-width="2.2"/>
<path d="M560.8,29.8h5.4v5.4h-5.4z" fill="#000" stroke="#fff" stroke-width="5.0" stroke-linejoin="miter" stroke-miterlimit="6" paint-order="stroke"/>
<text x="620" y="38.2" font-size="19" text-anchor="start" font-weight="normal" >Baseline</text>
<line x1="521" y1="55.25" x2="559" y2="55.25" stroke="#000" stroke-width="2.2" stroke-dasharray="4 4.15" stroke-linecap="round"/>
<line x1="572.5" y1="55.25" x2="602" y2="55.25" stroke="#000" stroke-width="2.2" stroke-dasharray="4 4.15" stroke-linecap="round"/>
<path d="M563.5,51.55L567.1,55.25L563.5,58.95L559.9,55.25z" fill="#000" stroke="#fff" stroke-width="5.0" stroke-linejoin="miter" stroke-miterlimit="6" paint-order="stroke"/>
<text x="620" y="60.95" font-size="19" text-anchor="start" font-weight="normal" >Baseline + suction</text>
<line x1="520" y1="78" x2="606.7" y2="78" stroke="#b80000" stroke-width="2.2"/>
<circle cx="563.5" cy="78" r="4.15" fill="#fff" stroke="#fff" stroke-width="5.0"/>
<circle cx="563.5" cy="78" r="3.85" fill="#d20000" stroke="#bb0000" stroke-width="0.6"/>
<text x="620" y="83.7" font-size="19" text-anchor="start" font-weight="normal" >Rigid droop nose</text>
<line x1="520" y1="100.75" x2="606.7" y2="100.75" stroke="#4ce020" stroke-width="2.2"/>
<path d="M563.5,95.78L567.8,103.23L559.2,103.23z" fill="#48fa00" stroke="#fff" stroke-width="5.0" stroke-linejoin="miter" stroke-miterlimit="6" paint-order="stroke"/>
<text x="620" y="106.45" font-size="19" text-anchor="start" font-weight="normal" >Flexible droop nose</text>
<line x1="521" y1="123.5" x2="559" y2="123.5" stroke="#4ce020" stroke-width="2.2" stroke-dasharray="4 4.15" stroke-linecap="round"/>
<line x1="572.5" y1="123.5" x2="602" y2="123.5" stroke="#4ce020" stroke-width="2.2" stroke-dasharray="4 4.15" stroke-linecap="round"/>
<path d="M563.5,128.47L567.8,121.02L559.2,121.02z" fill="#48fa00" stroke="#fff" stroke-width="5.0" stroke-linejoin="miter" stroke-miterlimit="6" paint-order="stroke"/>
<text x="620" y="129.2" font-size="19" text-anchor="start" font-weight="normal" >Flexible droop nose + suction</text>
</svg>
</body></html>
